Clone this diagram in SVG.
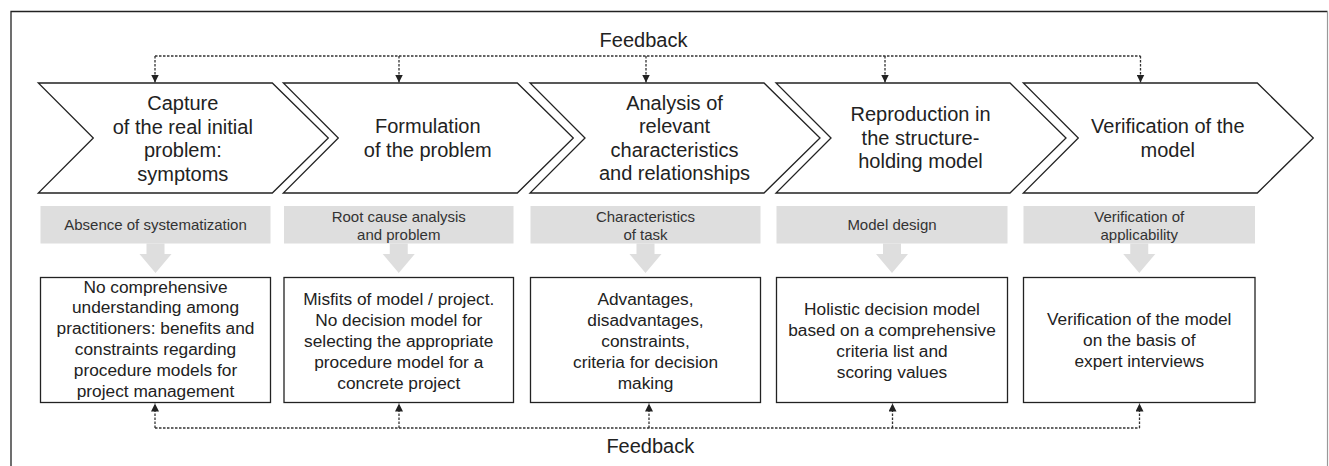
<svg xmlns="http://www.w3.org/2000/svg" width="1329" height="466" viewBox="0 0 1329 466">
<style>
  .chev { fill: #ffffff; stroke: #222222; stroke-width: 1.3; stroke-linejoin: miter; }
  .ct { font-family: "Liberation Sans", Arial, sans-serif; font-size: 20px; fill: #222222; text-anchor: middle; }
  .gbox { fill: #dedede; }
  .gt { font-family: "Liberation Sans", Arial, sans-serif; font-size: 15px; fill: #333333; text-anchor: middle; }
  .wbox { fill: #ffffff; stroke: #222222; stroke-width: 1.3; }
  .bt { font-family: "Liberation Sans", Arial, sans-serif; font-size: 17.3px; fill: #222222; text-anchor: middle; }
  .dash { fill: none; stroke: #333333; stroke-width: 1.3; stroke-dasharray: 2.5 1.5; }
  .fb { font-family: "Liberation Sans", Arial, sans-serif; font-size: 20px; fill: #222222; text-anchor: middle; }
</style>
<defs>
  <marker id="ah" viewBox="0 0 10 10" refX="10" refY="5" markerWidth="8" markerHeight="8" orient="auto" markerUnits="userSpaceOnUse">
    <path d="M0,0 L10,5 L0,10 Z" fill="#222222"/>
  </marker>
  <path id="garrow" d="M-9,0 L9,0 L9,10.5 L16,10.5 L0,29.5 L-16,10.5 L-9,10.5 Z" fill="#dedede"/>
</defs>
<rect x="0" y="0" width="1329" height="466" fill="#ffffff"/>
<g id="frame">
  <path d="M11,466 L11,11.5 L1327.5,11.5" fill="none" stroke="#222222" stroke-width="1.3"/>
  <path d="M1327.5,11.5 L1327.5,466" fill="none" stroke="#999999" stroke-width="1.2"/>
</g>

<g id="step1">
  <path class="chev" d="M38.3,83 L272.3,83 L328.3,138 L272.3,193 L38.3,193 L93.3,138 Z"/>
  <text class="ct" x="182.8" y="110">Capture</text>
  <text class="ct" x="182.8" y="133.5">of the real initial</text>
  <text class="ct" x="182.8" y="157">problem:</text>
  <text class="ct" x="182.8" y="180.5">symptoms</text>
</g>
<g id="step2">
  <path class="chev" d="M283.3,83 L517.3,83 L573.3,138 L517.3,193 L283.3,193 L338.3,138 Z"/>
  <text class="ct" x="427.8" y="133">Formulation</text>
  <text class="ct" x="427.8" y="156.5">of the problem</text>
</g>
<g id="step3">
  <path class="chev" d="M530,83 L764,83 L820,138 L764,193 L530,193 L585,138 Z"/>
  <text class="ct" x="674.5" y="109.5">Analysis of</text>
  <text class="ct" x="674.5" y="133">relevant</text>
  <text class="ct" x="674.5" y="156.5">characteristics</text>
  <text class="ct" x="674.5" y="180">and relationships</text>
</g>
<g id="step4">
  <path class="chev" d="M776,83 L1010,83 L1066,138 L1010,193 L776,193 L831,138 Z"/>
  <text class="ct" x="920.5" y="121">Reproduction in</text>
  <text class="ct" x="920.5" y="144.5">the structure-</text>
  <text class="ct" x="920.5" y="168">holding model</text>
</g>
<g id="step5">
  <path class="chev" d="M1023.3,83 L1257.3,83 L1313.3,138 L1257.3,193 L1023.3,193 L1078.3,138 Z"/>
  <text class="ct" x="1167.8" y="133">Verification of the</text>
  <text class="ct" x="1167.8" y="156.5">model</text>
</g>

<g id="label1">
  <rect class="gbox" x="40.5" y="206" width="230" height="37.5"/>
  <use href="#garrow" x="155.5" y="243.5"/>
  <text class="gt" x="155.5" y="230">Absence of systematization</text>
</g>
<g id="label2">
  <rect class="gbox" x="284" y="206" width="229.5" height="37.5"/>
  <use href="#garrow" x="398.75" y="243.5"/>
  <text class="gt" x="398.75" y="221.5">Root cause analysis</text>
  <text class="gt" x="398.75" y="239.5">and problem</text>
</g>
<g id="label3">
  <rect class="gbox" x="530.5" y="206" width="230" height="37.5"/>
  <use href="#garrow" x="645.5" y="243.5"/>
  <text class="gt" x="645.5" y="221.5">Characteristics</text>
  <text class="gt" x="645.5" y="239.5">of task</text>
</g>
<g id="label4">
  <rect class="gbox" x="776.5" y="206" width="231" height="37.5"/>
  <use href="#garrow" x="892" y="243.5"/>
  <text class="gt" x="892" y="230">Model design</text>
</g>
<g id="label5">
  <rect class="gbox" x="1023.5" y="206" width="231.5" height="37.5"/>
  <use href="#garrow" x="1139.25" y="243.5"/>
  <text class="gt" x="1139.25" y="221.5">Verification of</text>
  <text class="gt" x="1139.25" y="239.5">applicability</text>
</g>

<g id="box1">
  <rect class="wbox" x="40.5" y="277.5" width="230" height="125"/>
  <text class="bt" x="155.5" y="292.5">No comprehensive</text>
  <text class="bt" x="155.5" y="313.4">understanding among</text>
  <text class="bt" x="155.5" y="334.3">practitioners: benefits and</text>
  <text class="bt" x="155.5" y="355.2">constraints regarding</text>
  <text class="bt" x="155.5" y="376.1">procedure models for</text>
  <text class="bt" x="155.5" y="397">project management</text>
</g>
<g id="box2">
  <rect class="wbox" x="284" y="277.5" width="229.5" height="125"/>
  <text class="bt" x="398.75" y="304.5">Misfits of model / project.</text>
  <text class="bt" x="398.75" y="325.5">No decision model for</text>
  <text class="bt" x="398.75" y="346.5">selecting the appropriate</text>
  <text class="bt" x="398.75" y="367.5">procedure model for a</text>
  <text class="bt" x="398.75" y="388.5">concrete project</text>
</g>
<g id="box3">
  <rect class="wbox" x="530.5" y="277.5" width="230" height="125"/>
  <text class="bt" x="645.5" y="304.5">Advantages,</text>
  <text class="bt" x="645.5" y="325.5">disadvantages,</text>
  <text class="bt" x="645.5" y="346.5">constraints,</text>
  <text class="bt" x="645.5" y="367.5">criteria for decision</text>
  <text class="bt" x="645.5" y="388.5">making</text>
</g>
<g id="box4">
  <rect class="wbox" x="776.5" y="277.5" width="231" height="125"/>
  <text class="bt" x="892" y="315">Holistic decision model</text>
  <text class="bt" x="892" y="336">based on a comprehensive</text>
  <text class="bt" x="892" y="357">criteria list and</text>
  <text class="bt" x="892" y="378">scoring values</text>
</g>
<g id="box5">
  <rect class="wbox" x="1023.5" y="277.5" width="231.5" height="125"/>
  <text class="bt" x="1139.25" y="325">Verification of the model</text>
  <text class="bt" x="1139.25" y="346">on the basis of</text>
  <text class="bt" x="1139.25" y="367">expert interviews</text>
</g>

<g id="connectors">
  <path class="dash" d="M155,56 L1140.5,56"/>
  <path class="dash" d="M155,56 L155,82.5" marker-end="url(#ah)"/>
  <path class="dash" d="M399,56 L399,82.5" marker-end="url(#ah)"/>
  <path class="dash" d="M646,56 L646,82.5" marker-end="url(#ah)"/>
  <path class="dash" d="M885,56 L885,82.5" marker-end="url(#ah)"/>
  <path class="dash" d="M1140.5,56 L1140.5,82.5" marker-end="url(#ah)"/>
  <text class="fb" x="643.5" y="46.5">Feedback</text>

  <path class="dash" d="M155,428 L1139.5,428"/>
  <path class="dash" d="M155,428 L155,403.5" marker-end="url(#ah)"/>
  <path class="dash" d="M399,428 L399,403.5" marker-end="url(#ah)"/>
  <path class="dash" d="M649,428 L649,403.5" marker-end="url(#ah)"/>
  <path class="dash" d="M892.5,428 L892.5,403.5" marker-end="url(#ah)"/>
  <path class="dash" d="M1139.5,428 L1139.5,403.5" marker-end="url(#ah)"/>
  <text class="fb" x="650.3" y="453.3">Feedback</text>
</g>
</svg>
